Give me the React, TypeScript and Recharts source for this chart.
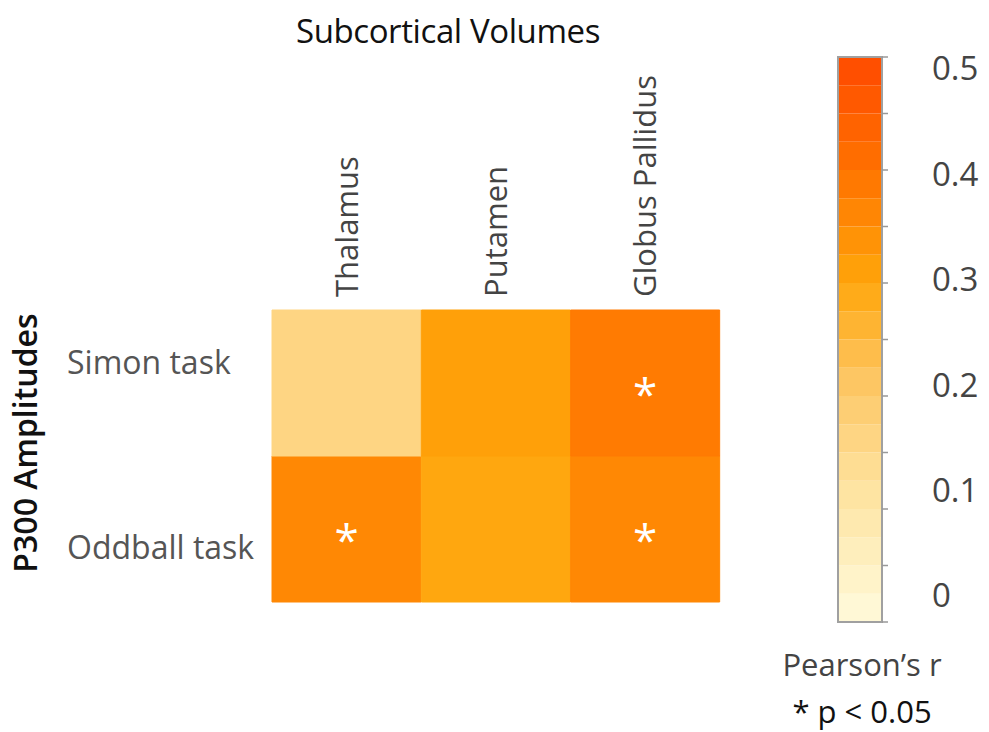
import React from 'react';
import {
  BarChart,
  Bar,
  Cell,
  LabelList,
  XAxis,
  YAxis,
  ComposedChart,
  ReferenceArea,
} from 'recharts';

// Subcortical volume columns and P300 task rows
const COLUMNS = ['Thalamus', 'Putamen', 'Globus Pallidus'];
const ROW_LABELS = ['Oddball task', 'Simon task'];
// label positions along the row axis (0..2, oddball at the bottom)
const ROW_TICKS = [0.37, 1.64];

// Pearson's r per cell
const SIMON_R = [0.15, 0.31, 0.385];
const ODDBALL_R = [0.36, 0.295, 0.36];

// p < 0.05 flags
const SIMON_SIG = [false, false, true];
const ODDBALL_SIG = [true, false, true];

// colour bar
const COLORBAR_TICKS = [0, 0.1, 0.2, 0.3, 0.4, 0.5];
const COLORBAR_DOMAIN: [number, number] = [-0.025, 0.511];
const BAND_EDGES = [
  -0.025, 0.0018, 0.0286, 0.0554, 0.0822, 0.109, 0.1358, 0.1626, 0.1894, 0.2162, 0.243,
  0.2698, 0.2966, 0.3234, 0.3502, 0.377, 0.4038, 0.4306, 0.4574, 0.4842, 0.511,
];

// colour map stops: [value, colour]
const COLOR_STOPS: Array<[number, string]> = [
  [-0.025, '#fffbdd'],
  [0.1, '#fee3a0'],
  [0.2, '#fdc766'],
  [0.3, '#ffa50a'],
  [0.4, '#ff7400'],
  [0.511, '#ff4a00'],
];

const FONT = '"Open Sans", "Noto Sans", sans-serif';

const hexToRgb = (h: string) => [1, 3, 5].map((i) => parseInt(h.slice(i, i + 2), 16));

const colorFor = (v: number) => {
  if (v <= COLOR_STOPS[0][0]) return COLOR_STOPS[0][1];
  for (let i = 1; i < COLOR_STOPS.length; i++) {
    const [v1, c1] = COLOR_STOPS[i];
    if (v <= v1) {
      const [v0, c0] = COLOR_STOPS[i - 1];
      const t = (v - v0) / (v1 - v0);
      const a = hexToRgb(c0);
      const b = hexToRgb(c1);
      const rgb = a.map((x, k) => Math.round(x + (b[k] - x) * t));
      return `rgb(${rgb.join(',')})`;
    }
  }
  return COLOR_STOPS[COLOR_STOPS.length - 1][1];
};

const heatData = COLUMNS.map((name) => ({ name, oddball: 1, simon: 1 }));

const bands = BAND_EDGES.slice(0, -1).map((lo, i) => ({
  lo,
  hi: BAND_EDGES[i + 1],
  color: colorFor((lo + BAND_EDGES[i + 1]) / 2),
}));
const minorTicks = BAND_EDGES.filter((_, i) => i % 2 === 0);

const ColumnTick = ({ x, y, payload }: any) => (
  <text
    transform={`translate(${x},${y}) rotate(-90)`}
    textAnchor="start"
    dy="0.35em"
    fontSize={31}
    fontFamily={FONT}
    fill="#444"
  >
    {payload.value}
  </text>
);

const RowTick = ({ y, payload }: any) => (
  <text x={67} y={y} dy="0.35em" textAnchor="start" fontSize={32} fontFamily={FONT} fill="#555">
    {payload.value < 1 ? ROW_LABELS[0] : ROW_LABELS[1]}
  </text>
);

// white asterisk in the middle of significant cells
const starContent = (sig: boolean[]) => (props: any) => {
  const { index } = props;
  const vb = props.viewBox || props;
  if (!sig[index]) return null;
  const cx = vb.x + vb.width / 2;
  const cy = vb.y + vb.height / 2;
  return (
    <text x={cx} y={cy + 27} textAnchor="middle" fontSize={44} fontFamily={FONT} fill="#fff">
      *
    </text>
  );
};

export default function App() {
  return (
    <div style={{ position: 'absolute', left: 0, top: 0, width: 989, height: 732, background: '#fff' }}>
      <div style={{ position: 'absolute', left: 0, top: 0 }}>
        <BarChart
          width={740}
          height={732}
          data={heatData}
          margin={{ top: 60, right: 20, bottom: 130, left: 0 }}
          barCategoryGap={0}
          barGap={0}
        >
          <XAxis
            dataKey="name"
            orientation="top"
            height={250}
            axisLine={false}
            tickLine={false}
            tickSize={0}
            tickMargin={13}
            interval={0}
            tick={<ColumnTick />}
          />
          <YAxis
            type="number"
            domain={[0, 2]}
            ticks={ROW_TICKS}
            width={272}
            axisLine={false}
            tickLine={false}
            tick={<RowTick />}
          />
          <Bar dataKey="oddball" stackId="cells" isAnimationActive={false}>
            {ODDBALL_R.map((r, i) => (
              <Cell key={`odd-${i}`} fill={colorFor(r)} stroke={colorFor(r)} strokeWidth={1} />
            ))}
            <LabelList content={starContent(ODDBALL_SIG)} />
          </Bar>
          <Bar dataKey="simon" stackId="cells" isAnimationActive={false}>
            {SIMON_R.map((r, i) => (
              <Cell key={`sim-${i}`} fill={colorFor(r)} stroke={colorFor(r)} strokeWidth={1} />
            ))}
            <LabelList content={starContent(SIMON_SIG)} />
          </Bar>
        </BarChart>
      </div>

      {/* colour bar: minor tick axis hugs the bar, value labels sit outside it */}
      <div style={{ position: 'absolute', left: 830, top: 40 }}>
        <ComposedChart width={159} height={600} data={[{ x: 0 }]} margin={{ top: 17, right: 0, bottom: 18, left: 8 }}>
          <XAxis dataKey="x" hide />
          <YAxis
            yAxisId="edge"
            orientation="right"
            type="number"
            domain={COLORBAR_DOMAIN}
            ticks={minorTicks}
            width={8}
            axisLine={false}
            tickSize={6}
            tickLine={{ stroke: '#999', strokeWidth: 1.5 }}
            tickFormatter={() => ''}
            allowDataOverflow
          />
          <YAxis
            yAxisId="values"
            orientation="right"
            type="number"
            domain={COLORBAR_DOMAIN}
            ticks={COLORBAR_TICKS}
            width={99}
            axisLine={false}
            tickLine={false}
            tickSize={0}
            tickMargin={42}
            tick={{ fontSize: 33, fontFamily: FONT, fill: '#444', textAnchor: 'start' }}
            allowDataOverflow
          />
          {bands.map((b, i) => (
            <ReferenceArea
              key={`band-${i}`}
              yAxisId="values"
              y1={b.lo}
              y2={b.hi}
              fill={b.color}
              fillOpacity={1}
              stroke="none"
            />
          ))}
          <ReferenceArea
            yAxisId="values"
            y1={COLORBAR_DOMAIN[0]}
            y2={COLORBAR_DOMAIN[1]}
            fill="none"
            stroke="#a0a0a0"
            strokeWidth={2}
          />
        </ComposedChart>
      </div>

      <svg width={989} height={732} style={{ position: 'absolute', left: 0, top: 0, pointerEvents: 'none' }}>
        <text x={448} y={31} textAnchor="middle" dy="0.35em" fontSize={33} fontFamily={FONT} fill="#111" letterSpacing={-0.4}>
          Subcortical Volumes
        </text>
        <text
          transform="translate(26,443) rotate(-90)"
          textAnchor="middle"
          dy="0.35em"
          fontSize={32}
          fontWeight={600}
          fontFamily={FONT}
          fill="#111"
        >
          P300 Amplitudes
        </text>
        <text x={862} y={665} textAnchor="middle" dy="0.35em" fontSize={31} fontFamily={FONT} fill="#444">
          Pearson’s r
        </text>
        <text x={862} y={712} textAnchor="middle" dy="0.35em" fontSize={31} fontFamily={FONT} fill="#111">
          * p &lt; 0.05
        </text>
      </svg>
    </div>
  );
}
